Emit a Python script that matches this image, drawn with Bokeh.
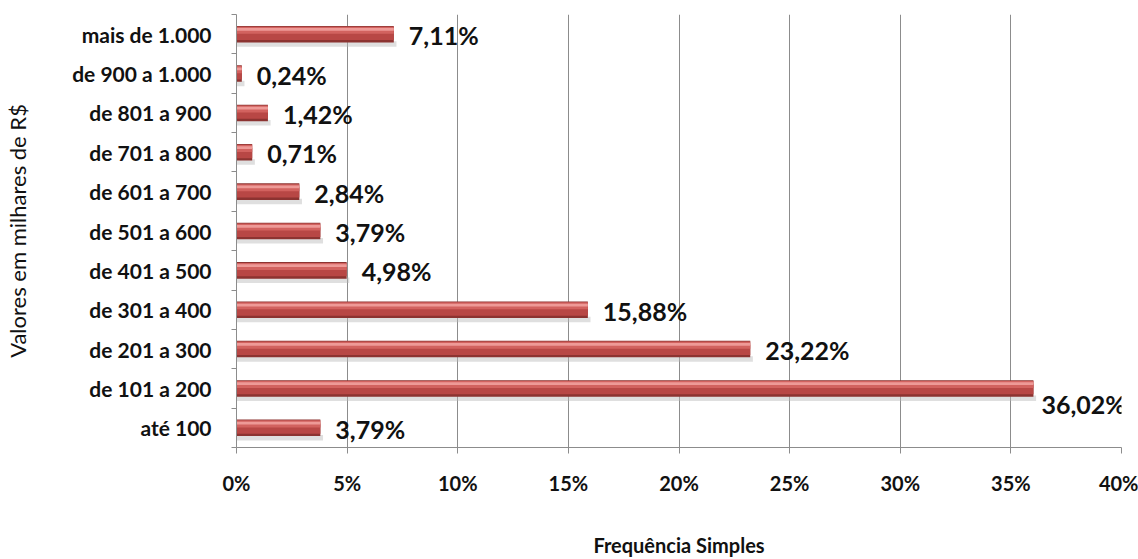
from bokeh.plotting import figure
from bokeh.models import ColumnDataSource, Range1d, FixedTicker, LabelSet
from bokeh.embed import file_html
from bokeh.resources import INLINE
from bokeh.core.properties import value

categories = ["até 100", "de 101 a 200", "de 201 a 300", "de 301 a 400",
              "de 401 a 500", "de 501 a 600", "de 601 a 700", "de 701 a 800",
              "de 801 a 900", "de 900 a 1.000", "mais de 1.000"]
values = [3.79, 36.02, 23.22, 15.88, 4.98, 3.79, 2.84, 0.71, 1.42, 0.24, 7.11]
x_ticks = [0, 5, 10, 15, 20, 25, 30, 35, 40]
x_tick_labels = ["0%", "5%", "10%", "15%", "20%", "25%", "30%", "35%", "40%"]

FONT = "Lato"
ys = list(range(len(categories)))
labels = [("%.2f" % v).replace(".", ",") + "%" for v in values]
# label placement: below the bar when it would run out of the plot area
label_dy = [-16 if v > 35 else -1 for v in values]
label_dx = [8 if v > 35 else 15 for v in values]

src = ColumnDataSource(dict(
    y=ys, v=values, lab=labels, dy=label_dy, dx=label_dx,
    y_sh=[y - 0.25 for y in ys], v_sh=[v + 0.12 for v in values],
    y_up=[y + 0.10 for y in ys], y_hi=[y + 0.12 for y in ys],
    y_mid=[y - 0.02 for y in ys],
))

p = figure(width=1138, height=559, x_range=Range1d(0, 40), y_range=Range1d(-0.5, 10.5),
           output_backend="svg", toolbar_location=None,
           min_border_left=236, min_border_right=17, min_border_top=14, min_border_bottom=109)
p.outline_line_color = None
p.background_fill_color = "white"

# drop shadow
p.hbar(y="y_sh", left=0, right="v_sh", height=0.14, source=src,
       fill_color="#b8b8b8", fill_alpha=0.45, line_color=None)
# cylinder-like bar built from layered bands
p.hbar(y="y", left=0, right="v", height=0.42, source=src,
       fill_color="#8c3331", line_color=None)
p.hbar(y="y_mid", left=0, right="v", height=0.26, source=src,
       fill_color="#b84745", line_color=None)
p.hbar(y="y_up", left=0, right="v", height=0.18, source=src,
       fill_color="#d2625f", line_color=None)
p.hbar(y="y_hi", left=0, right="v", height=0.07, source=src,
       fill_color="#ee9a97", line_color=None)

p.add_layout(LabelSet(x="v", y="y", text="lab", source=src, x_offset="dx", y_offset="dy",
                      text_font=value(FONT), text_font_style="bold", text_font_size="25px",
                      text_baseline="middle", text_align="left", text_color="#111111"))

# x axis
p.xaxis.ticker = FixedTicker(ticks=x_ticks, minor_ticks=[])
p.xaxis.major_label_overrides = {t: l for t, l in zip(x_ticks, x_tick_labels)}
p.xaxis.axis_label = "Frequência Simples"
p.xaxis.axis_label_text_font = FONT
p.xaxis.axis_label_text_font_style = "bold"
p.xaxis.axis_label_text_font_size = "20px"
p.xaxis.axis_label_standoff = 35
p.xaxis.major_label_text_font = FONT
p.xaxis.major_label_text_font_style = "bold"
p.xaxis.major_label_text_font_size = "20px"
p.xaxis.major_label_standoff = 17
p.xaxis.major_tick_out = 6
p.xaxis.major_tick_in = 0
p.xaxis.axis_line_color = "#8c8c8c"
p.xaxis.major_tick_line_color = "#8c8c8c"
p.xaxis.major_label_text_color = "#111111"
p.xaxis.axis_label_text_color = "#111111"

# y axis
p.yaxis.ticker = FixedTicker(ticks=ys, minor_ticks=[y - 0.5 for y in range(len(categories) + 1)])
p.yaxis.major_label_overrides = {y: c for y, c in zip(ys, categories)}
p.yaxis.axis_label = "Valores em milhares de R$"
p.yaxis.axis_label_text_font = FONT
p.yaxis.axis_label_text_font_style = "normal"
p.yaxis.axis_label_text_font_size = "22px"
p.yaxis.axis_label_standoff = 38
p.yaxis.major_label_text_font = FONT
p.yaxis.major_label_text_font_style = "bold"
p.yaxis.major_label_text_font_size = "21px"
p.yaxis.major_label_standoff = 20
p.yaxis.major_tick_out = 0
p.yaxis.major_tick_in = 0
p.yaxis.minor_tick_out = 5
p.yaxis.minor_tick_in = 0
p.yaxis.axis_line_color = "#8c8c8c"
p.yaxis.minor_tick_line_color = "#8c8c8c"
p.yaxis.major_label_text_color = "#111111"
p.yaxis.axis_label_text_color = "#111111"

p.xgrid.grid_line_color = "#8c8c8c"
p.xgrid.grid_line_width = 1
p.ygrid.grid_line_color = None

open("out.html", "w").write(file_html(p, INLINE))
